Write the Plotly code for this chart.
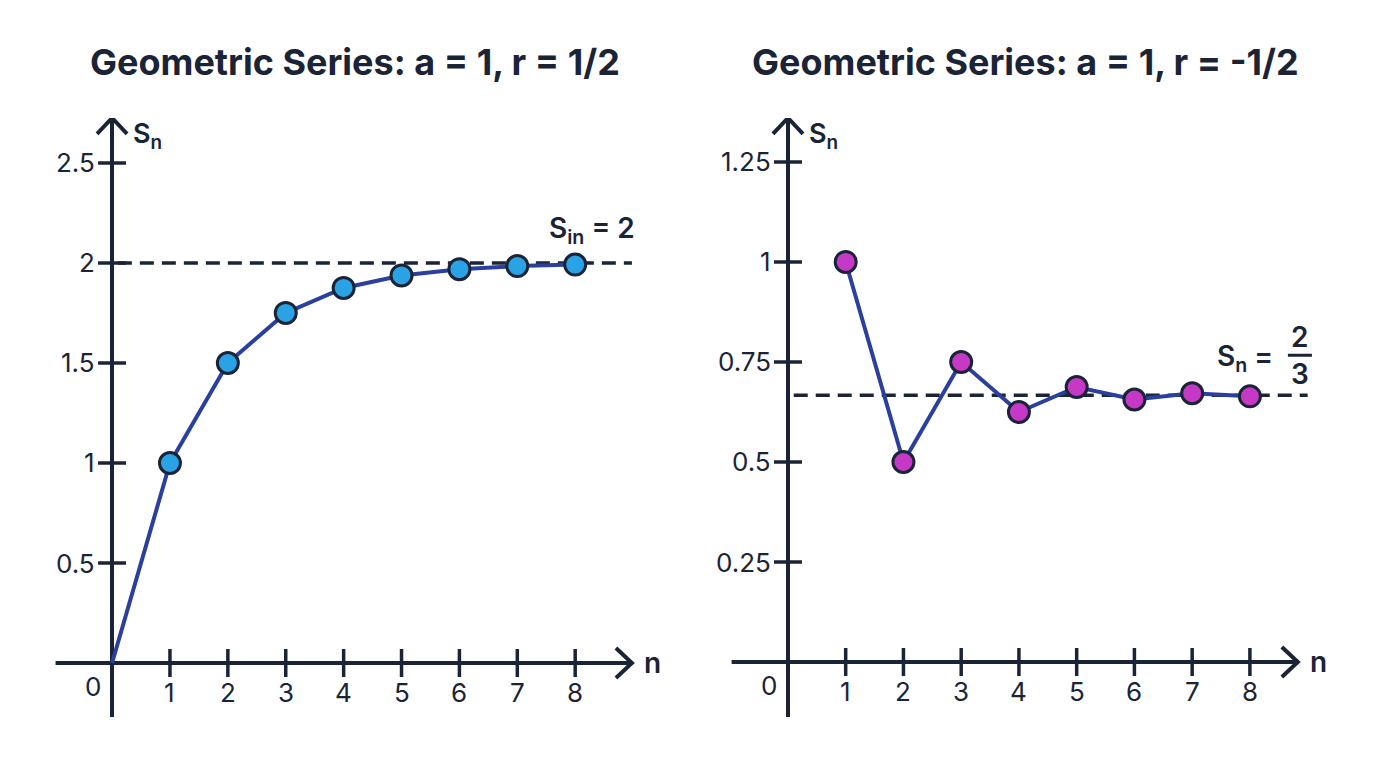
import plotly.graph_objects as go

# ---------------- data ----------------
n_left = [0, 1, 2, 3, 4, 5, 6, 7, 8]
s_left = [0, 1, 1.5, 1.75, 1.875, 1.9375, 1.96875, 1.984375, 1.9921875]
n_right = [1, 2, 3, 4, 5, 6, 7, 8]
s_right = [1, 0.5, 0.75, 0.625, 0.6875, 0.65625, 0.671875, 0.6640625]
limit_left = 2
limit_right = 2 / 3
x_ticks = [1, 2, 3, 4, 5, 6, 7, 8]
y_ticks_left = [0.5, 1, 1.5, 2, 2.5]
y_ticks_left_lbl = ["0.5", "1", "1.5", "2", "2.5"]
y_ticks_right = [0.25, 0.5, 0.75, 1, 1.25]
y_ticks_right_lbl = ["0.25", "0.5", "0.75", "1", "1.25"]
titles = ["Geometric Series: a = 1, r = 1/2", "Geometric Series: a = 1, r = -1/2"]

NAVY = "#1b2437"
LINE = "#2b3f9f"
FILL_L = "#2aa3e6"
FILL_R = "#c639c6"
FONT = "Inter"
TICK_FONT = dict(family=FONT, size=26, color=NAVY)

x_range = [-0.98, 9.3]
axis_end_left, axis_end_right = 8.98, 8.83
dash_end_left, dash_end_right = 8.98, 9.0
y_range_left = [-0.27, 2.725]
y_range_right = [-0.1375, 1.36]

fig = go.Figure()

def add_panel(xa, ya, nx, sy, fill, yt, ytl, x_end, d_end, yr, limit, skip_first):
    # x axis line
    fig.add_shape(type="line", xref=xa, yref=ya, x0=x_range[0], x1=x_end, y0=0, y1=0,
                  layer="below", line=dict(color=NAVY, width=4))
    # dashed limit line
    fig.add_shape(type="line", xref=xa, yref=ya, x0=0.1, x1=d_end,
                  y0=limit, y1=limit, layer="below",
                  line=dict(color=NAVY, width=3.5, dash="14px,8px"))
    # x tick marks
    fig.add_trace(go.Scatter(x=x_ticks, y=[0] * len(x_ticks), xaxis=xa, yaxis=ya,
                             mode="markers",
                             marker=dict(symbol="line-ns", size=20,
                                         line=dict(width=3.5, color=NAVY)),
                             hoverinfo="skip", showlegend=False))
    for v in x_ticks:
        fig.add_annotation(xref=xa, yref=ya, x=v, y=0, yshift=-12, yanchor="top",
                           showarrow=False, text=str(v), font=TICK_FONT)
    # y tick marks
    fig.add_trace(go.Scatter(x=[0] * len(yt), y=yt, xaxis=xa, yaxis=ya,
                             mode="markers",
                             marker=dict(symbol="line-ew", size=20,
                                         line=dict(width=3.5, color=NAVY)),
                             hoverinfo="skip", showlegend=False))
    for v, lbl in zip(yt, ytl):
        fig.add_annotation(xref=xa, yref=ya, x=0, y=v, xshift=-15, xanchor="right",
                           yanchor="middle", showarrow=False, text=lbl, font=TICK_FONT)
    # series line
    fig.add_trace(go.Scatter(x=nx, y=sy, xaxis=xa, yaxis=ya, mode="lines",
                             line=dict(color=LINE, width=4),
                             showlegend=False, hoverinfo="skip"))
    # markers
    mx = nx[1:] if skip_first else nx
    my = sy[1:] if skip_first else sy
    fig.add_trace(go.Scatter(x=mx, y=my, xaxis=xa, yaxis=ya, mode="markers",
                             marker=dict(size=21, color=fill,
                                         line=dict(width=3, color=NAVY)),
                             showlegend=False))
    # arrowheads
    fig.add_shape(type="path", xref=xa, yref=ya, xsizemode="pixel", ysizemode="pixel",
                  xanchor=x_end, yanchor=0,
                  path="M -16,15 L 0,0 L -16,-15",
                  line=dict(color=NAVY, width=4))
    fig.add_shape(type="path", xref=xa, yref=ya, xsizemode="pixel", ysizemode="pixel",
                  xanchor=0, yanchor=yr[1],
                  path="M -15,-16 L 0,0 L 15,-16",
                  line=dict(color=NAVY, width=4))
    # axis names
    fig.add_annotation(xref=xa, yref=ya, x=0, y=yr[1], xshift=19, yshift=-18,
                       xanchor="left", yanchor="middle", showarrow=False,
                       text="S<sub>n</sub>",
                       font=dict(family=FONT, size=27, color=NAVY, weight=600))
    fig.add_annotation(xref=xa, yref=ya, x=x_end, y=0, xshift=10,
                       xanchor="left", yanchor="middle", showarrow=False,
                       text="n", font=dict(family=FONT, size=28, color=NAVY, weight=600))
    fig.add_annotation(xref=xa, yref=ya, x=0, y=0, xshift=-19, yshift=-23,
                       showarrow=False, text="0", font=TICK_FONT)

add_panel("x", "y", n_left, s_left, FILL_L, y_ticks_left, y_ticks_left_lbl,
          axis_end_left, dash_end_left, y_range_left, limit_left, True)
add_panel("x2", "y2", n_right, s_right, FILL_R, y_ticks_right, y_ticks_right_lbl,
          axis_end_right, dash_end_right, y_range_right, limit_right, False)

LBL_FONT = dict(family=FONT, size=28, color=NAVY, weight=600)
# limit labels
fig.add_annotation(xref="x", yref="y", x=n_left[-1], y=limit_left, xshift=17, yshift=33,
                   showarrow=False, text="S<sub>in</sub> = 2", font=LBL_FONT)
fig.add_annotation(xref="x2", yref="y2", x=n_right[-1], y=limit_right, xshift=-5, yshift=37,
                   showarrow=False, text="S<sub>n</sub> =", font=LBL_FONT)
fig.add_annotation(xref="x2", yref="y2", x=n_right[-1], y=limit_right, xshift=50, yshift=58,
                   showarrow=False, text="2", font=LBL_FONT)
fig.add_annotation(xref="x2", yref="y2", x=n_right[-1], y=limit_right, xshift=50, yshift=21,
                   showarrow=False, text="3", font=LBL_FONT)
fig.add_shape(type="line", xref="x2", yref="y2", xsizemode="pixel", ysizemode="pixel",
              xanchor=n_right[-1], yanchor=limit_right, x0=38, x1=62, y0=40, y1=40,
              line=dict(color=NAVY, width=3))

# titles
for xc, t in zip([0.2525, 0.7395], titles):
    fig.add_annotation(xref="paper", yref="paper", x=xc, y=0.9297, showarrow=False,
                       text=t, xanchor="center", yanchor="middle",
                       font=dict(family=FONT, size=36, color=NAVY, weight=700))

x_common = dict(range=x_range, showgrid=False, showticklabels=False, ticks="",
                zeroline=True, zerolinecolor=NAVY, zerolinewidth=4, showline=False)
y_common = dict(showgrid=False, showticklabels=False, ticks="",
                zeroline=False, showline=False)
fig.update_layout(
    width=1376, height=768,
    margin=dict(l=0, r=0, t=0, b=0),
    paper_bgcolor="white", plot_bgcolor="white",
    xaxis=dict(domain=[0.0344, 0.4669], anchor="y", **x_common),
    xaxis2=dict(domain=[0.5257, 0.9571], anchor="y2", **x_common),
    yaxis=dict(domain=[0.0768, 0.8568], range=y_range_left, anchor="x", **y_common),
    yaxis2=dict(domain=[0.0768, 0.8568], range=y_range_right, anchor="x2", **y_common),
    showlegend=False,
)

fig.write_html("out.html")
